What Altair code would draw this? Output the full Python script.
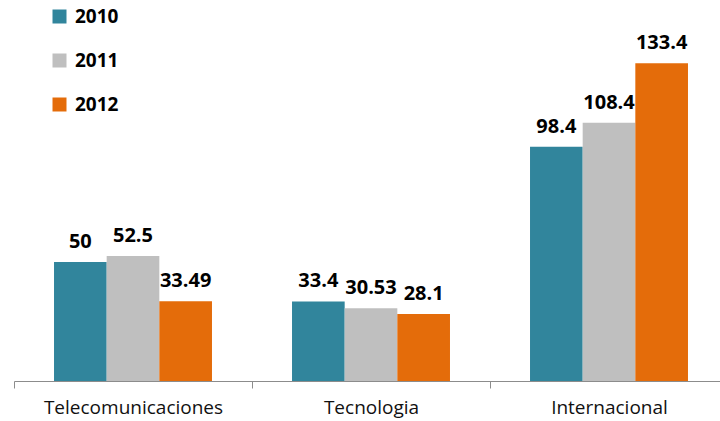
import altair as alt
import pandas as pd

# Sector totals per year
categories = ["Telecomunicaciones", "Tecnologia", "Internacional"]
years = ["2010", "2011", "2012"]
values_2010 = [50, 33.4, 98.4]
values_2011 = [52.5, 30.53, 108.4]
values_2012 = [33.49, 28.1, 133.4]
colors = ["#31859C", "#BFBFBF", "#E46C0A"]

rows = []
for year, series in zip(years, [values_2010, values_2011, values_2012]):
    for cat, v in zip(categories, series):
        rows.append({"sector": cat, "year": year, "value": v, "label": f"{v:g}"})
df = pd.DataFrame(rows)

FONT = "Open Sans"

x_enc = alt.X(
    "sector:N",
    sort=categories,
    scale=alt.Scale(range=[0, 714], paddingInner=0, paddingOuter=0),
    axis=alt.Axis(
        title=None,
        labelAngle=0,
        tickBand="extent",
        tickSize=7,
        domainColor="#8c8c8c",
        tickColor="#8c8c8c",
        labelFont=FONT,
        labelFontSize=19,
        labelColor="#111111",
        labelPadding=10,
    ),
)
xoff_enc = alt.XOffset(
    "year:N", sort=years, scale=alt.Scale(paddingInner=0, paddingOuter=0.76)
)
y_enc = alt.Y("value:Q", scale=alt.Scale(domain=[0, 160], nice=False), axis=None)

bars = alt.Chart(df).mark_bar().encode(
    x=x_enc,
    xOffset=xoff_enc,
    y=y_enc,
    color=alt.Color(
        "year:N",
        sort=years,
        scale=alt.Scale(domain=years, range=colors),
        legend=alt.Legend(
            orient="none",
            legendX=36,
            legendY=7,
            title=None,
            symbolType="square",
            symbolSize=196,
            symbolStrokeWidth=0,
            labelFont=FONT,
            labelFontSize=19,
            labelFontWeight="bold",
            labelColor="#000000",
            labelOffset=6,
            rowPadding=24,
            padding=0,
        ),
    ),
)

labels = alt.Chart(df).mark_text(
    dy=-14,
    baseline="alphabetic",
    font=FONT,
    fontSize=20,
    fontWeight="bold",
    color="#000000",
).encode(
    x=x_enc,
    xOffset=xoff_enc,
    y=y_enc,
    text="label:N",
)

chart = (
    alt.layer(bars, labels)
    .properties(
        width=706,
        height=381,
        autosize=alt.AutoSizeParams(type="none"),
        padding={"left": 14, "top": 0, "right": 0, "bottom": 40},
        background="white",
    )
    .configure_view(stroke=None)
)

chart.save("out.html", embed_options={"renderer": "svg", "actions": False})
